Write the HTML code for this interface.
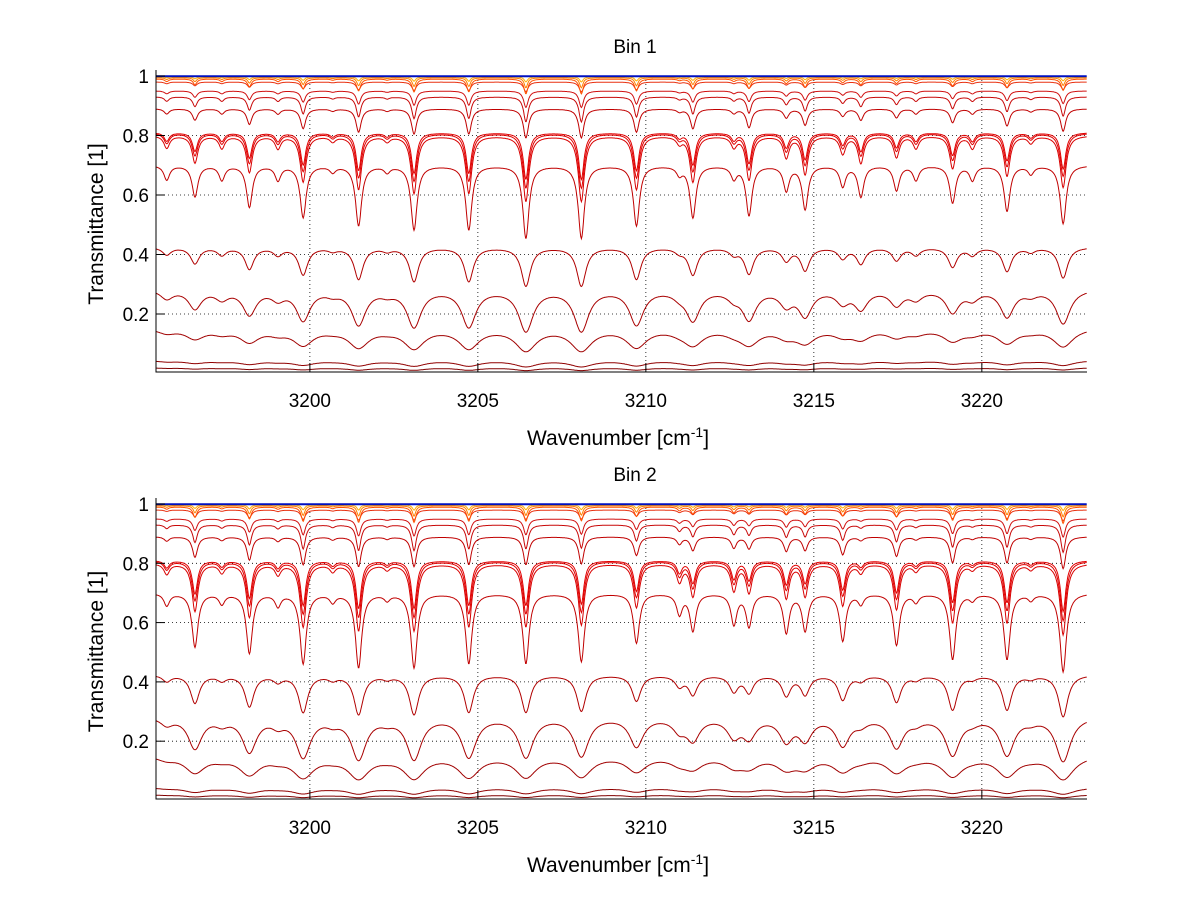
<!DOCTYPE html>
<html><head><meta charset="utf-8"><style>
html,body{margin:0;padding:0;background:#fff;}
svg{display:block;font-family:"Liberation Sans",sans-serif;}
</style></head><body>
<svg id="chart" width="1200" height="901" viewBox="0 0 1200 901" xmlns="http://www.w3.org/2000/svg"></svg>
<script>
// ---- data ----
const peakCenters = [3195.74,3196.58,3197.38,3198.2,3199.05,3199.8,3200.68,3201.45,3202.3,3203.1,3204.73,3206.43,3208.08,3209.72,3211.0,3211.4,3212.62,3213.07,3214.18,3214.74,3215.86,3216.4,3217.46,3218.04,3219.13,3219.72,3220.75,3221.46,3222.42];
const peakDepthsBin1 = [0.07,0.15,0.07,0.20,0.07,0.25,0.03,0.29,0.03,0.31,0.31,0.35,0.35,0.29,0.04,0.25,0.06,0.24,0.12,0.21,0.10,0.15,0.12,0.07,0.18,0.07,0.22,0.04,0.28];
const peakDepthsBin2 = [0.06,0.26,0.05,0.29,0.06,0.34,0.04,0.36,0.03,0.36,0.34,0.34,0.33,0.24,0.10,0.18,0.15,0.16,0.19,0.18,0.23,0.05,0.25,0.04,0.32,0.03,0.32,0.03,0.38];
const curveBaselines = [0.999,0.997,0.994,0.99,0.98,0.95,0.93,0.89,0.81,0.808,0.80,0.70,0.425,0.285,0.155,0.045,0.02];
const curveScales    = [0,0.04,0.08,0.12,0.08,0.14,0.22,0.27,0.5,0.6,0.75,1.0,0.85,1.6,1.6,1.5,1.5];
const curveWidths    = [0.06,0.06,0.06,0.07,0.08,0.08,0.08,0.09,0.09,0.1,0.1,0.1,0.15,0.22,0.32,0.35,0.35];
const curveColors    = ['#0010c0','#ffb000','#ff8000','#ff5000','#e83010','#d01010','#c80808','#c00000','#e00000','#e00000','#d80000','#c00000','#b00000','#a80000','#a00000','#900000','#800000'];
const xTicks = [3200,3205,3210,3215,3220];
const yTicks = [0.2,0.4,0.6,0.8,1];
const yTickLabels = ['0.2','0.4','0.6','0.8','1'];
const xMin = 3195.42, xMax = 3223.13, yMin = 0.005, yMax = 1.0;

const NS = 'http://www.w3.org/2000/svg';
const svg = document.getElementById('chart');
function mk(tag, attrs, parent){const e=document.createElementNS(NS,tag);for(const k in attrs)e.setAttribute(k,attrs[k]);(parent||svg).appendChild(e);return e;}

function drawPanel(panelIdx, top, bottom, depths, title){
  const L=156, R=1087;
  const sx = v => L + (v-xMin)/(xMax-xMin)*(R-L);
  const sy = v => bottom - (v-yMin)/(yMax-yMin)*(bottom-top);
  const g = mk('g',{});
  
  
  const cid='clip'+panelIdx;
  const cp = mk('clipPath',{id:cid},g); mk('rect',{x:L,y:top-4,width:R-L,height:bottom-top+4},cp);
  xTicks.forEach(t=>{const l=mk('line',{x1:sx(t),x2:sx(t),y1:top,y2:bottom,stroke:'#000','stroke-width':0.8,'stroke-dasharray':'1,3'},g);
    });
  yTicks.forEach(t=>{const l=mk('line',{x1:L,x2:R,y1:sy(t),y2:sy(t),stroke:'#000','stroke-width':0.8,'stroke-dasharray':'1,3'},g);
    });
  const ks = depths.map(d=>-Math.log(1-d));
  const sg = mk('g',{'clip-path':'url(#'+cid+')'},g);
  for(let c=curveBaselines.length-1;c>=0;c--){
    let d='';
    for(let x=xMin;x<=xMax+0.001;x+=0.02){
      let A=0;
      for(let j=0;j<peakCenters.length;j++){const u=(x-peakCenters[j])/curveWidths[c];A+=ks[j]/(1+u*u);}
      const T=curveBaselines[c]*Math.exp(-curveScales[c]*A);
      d+=(d?'L':'M')+sx(x).toFixed(1)+','+sy(T).toFixed(1);
    }
    const p=mk('path',{d:d,fill:'none',stroke:curveColors[c],'stroke-width':c===0?2:1},sg);
    
    
  }
  const ax=mk('path',{d:`M${L},${top-6}V${bottom}H${R}`,fill:'none',stroke:'#000','stroke-width':1},g);
  
  xTicks.forEach(t=>{
    mk('line',{x1:sx(t),x2:sx(t),y1:bottom,y2:bottom-9,stroke:'#000'},g);
    const tx=mk('text',{x:sx(t),y:bottom+35,'text-anchor':'middle','font-size':19},g);tx.textContent=t;
    
  });
  yTicks.forEach((t,i)=>{
    mk('line',{x1:L,x2:L+9,y1:sy(t),y2:sy(t),stroke:'#000'},g);
    const tx=mk('text',{x:L-7,y:sy(t)+7,'text-anchor':'end','font-size':19},g);tx.textContent=yTickLabels[i];
    
  });
  const tt=mk('text',{x:635,y:top-23,'text-anchor':'middle','font-size':19},g);tt.textContent=title;
  
  const xl=mk('text',{x:618,y:bottom+73,'text-anchor':'middle','font-size':21},g);
  
  xl.appendChild(document.createTextNode('Wavenumber [cm'));
  const sup=mk('tspan',{'font-size':14,dy:-8},xl);sup.textContent='-1';
  const cl=mk('tspan',{dy:8},xl);cl.textContent=']';
  const yc=(top+bottom)/2;
  const yl=mk('text',{x:103,y:yc,'text-anchor':'middle','font-size':21,transform:`rotate(-90 103 ${yc})`},g);yl.textContent='Transmittance [1]';
  
}
drawPanel(1,76,372,peakDepthsBin1,'Bin 1');
drawPanel(2,504,799,peakDepthsBin2,'Bin 2');
</script>
</body></html>
